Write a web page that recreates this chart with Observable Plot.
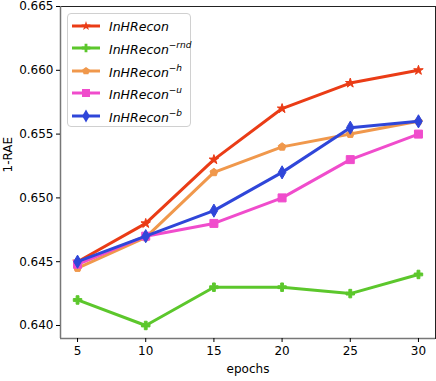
<!DOCTYPE html>
<html><head><meta charset="utf-8">
<script src="https://cdn.jsdelivr.net/npm/d3@7"></script>
<script src="https://cdn.jsdelivr.net/npm/@observablehq/plot@0.6"></script>
<style>
body{margin:0;background:#fff;font-family:"DejaVu Sans",sans-serif;}
#wrap{position:relative;width:436px;height:381px;}
#wrap svg text{font-size:12px;}
#legend{position:absolute;left:67px;top:13px;width:124px;height:114px;border:1px solid #d0d0d0;border-radius:4px;background:rgba(255,255,255,0.85);box-sizing:border-box;}
.item{position:absolute;left:0;height:20px;display:flex;align-items:center;}
.item span{font-style:italic;font-size:12.5px;color:#000;margin-left:8px;white-space:nowrap;}
.item sup{font-size:9px;vertical-align:6px;}
</style></head>
<body><div id="wrap"><div id="legend"></div></div>
<script>
const epochs = [5, 10, 15, 20, 25, 30];
const names = ["InHRecon", "InHRecon-rnd", "InHRecon-h", "InHRecon-u", "InHRecon-b"];
const sups = ["", "\u2212rnd", "\u2212h", "\u2212u", "\u2212b"];
const vFull = [0.645, 0.648, 0.653, 0.657, 0.659, 0.660];
const vRnd  = [0.642, 0.640, 0.643, 0.643, 0.6425, 0.644];
const vH    = [0.6445, 0.6469, 0.652, 0.654, 0.655, 0.656];
const vU    = [0.6448, 0.6470, 0.648, 0.650, 0.653, 0.655];
const vB    = [0.645, 0.647, 0.649, 0.652, 0.6555, 0.656];
const colors = ["#ea3c16", "#5cc72c", "#f0984c", "#f04ccc", "#2f46d9"];
const yTicks = [0.640, 0.645, 0.650, 0.655, 0.660, 0.665];

const pentagon = {draw(ctx, size){
  const r = Math.sqrt(size / 2.378);
  for (let i = 0; i < 5; i++) {
    const a = -Math.PI/2 + i * 2*Math.PI/5;
    const x = r*Math.cos(a), y = r*Math.sin(a);
    i ? ctx.lineTo(x,y) : ctx.moveTo(x,y);
  }
  ctx.closePath();
}};
const symbols = [d3.symbolStar, d3.symbolCross, pentagon, d3.symbolSquare, d3.symbolDiamond];
const sizes = [28, 40, 40, 64, 50];
const series = [vFull, vRnd, vH, vU, vB];

const marks = [];
series.forEach((vals, i) => {
  const data = epochs.map((e, j) => ({e, v: vals[j]}));
  marks.push(Plot.line(data, {x: "e", y: "v", stroke: colors[i], strokeWidth: 3}));
  marks.push(Plot.dot(data, {x: "e", y: "v", fill: colors[i], stroke: colors[i], strokeWidth: 1, symbol: () => symbols[i], r: Math.sqrt(sizes[i]/Math.PI)}));
});

const chart = Plot.plot({
  width: 436, height: 381,
  marginLeft: 60, marginRight: 1, marginTop: 6, marginBottom: 43,
  style: {fontFamily: "DejaVu Sans, sans-serif", fontSize: "12px", color: "#000", background: "#fff"},
  x: {domain: [3.75, 31.25], ticks: epochs, tickFormat: d => d, tickSize: 4, label: null},
  y: {domain: [0.63898, 0.665], ticks: yTicks, tickFormat: d => d.toFixed(3), tickSize: 4, label: null},
  marks: [
    ...marks,
    Plot.frame({stroke: "#222", strokeWidth: 1}),
    Plot.ruleX([3.75], {stroke: "#777", strokeWidth: 1.5}),
    Plot.ruleY([0.63898], {stroke: "#777", strokeWidth: 1.5}),
    Plot.axisX({ticks: epochs, tickSize: 4, tickPadding: 4, label: null, fontSize: 12}),
    Plot.axisY({ticks: yTicks, tickSize: 4, tickPadding: 3, tickFormat: d => d.toFixed(3), label: null, fontSize: 12}),
    Plot.text(["epochs"], {frameAnchor: "bottom", dy: 34, fontSize: 12}),
    Plot.text(["1-RAE"], {frameAnchor: "left", dx: -52, rotate: -90, fontSize: 12})
  ]
});
document.getElementById("wrap").prepend(chart);
chart.style.position = "absolute"; chart.style.left = "0"; chart.style.top = "0";

const legend = document.getElementById("legend");
const ys = [2, 24, 47, 69, 92];
names.forEach((n, i) => {
  const div = document.createElement("div");
  div.className = "item";
  div.style.top = ys[i] + "px";
  const svg = d3.create("svg").attr("width", 30).attr("height", 20).style("margin-left", "3px");
  svg.append("line").attr("x1", 1).attr("x2", 29).attr("y1", 10).attr("y2", 10).attr("stroke", colors[i]).attr("stroke-width", 3);
  svg.append("path").attr("transform", "translate(15,10)").attr("d", d3.symbol(symbols[i], sizes[i])()).attr("fill", colors[i]);
  div.appendChild(svg.node());
  const sp = document.createElement("span");
  sp.innerHTML = "InHRecon" + (sups[i] ? "<sup>" + sups[i] + "</sup>" : "");
  div.appendChild(sp);
  legend.appendChild(div);
});
</script></body></html>
